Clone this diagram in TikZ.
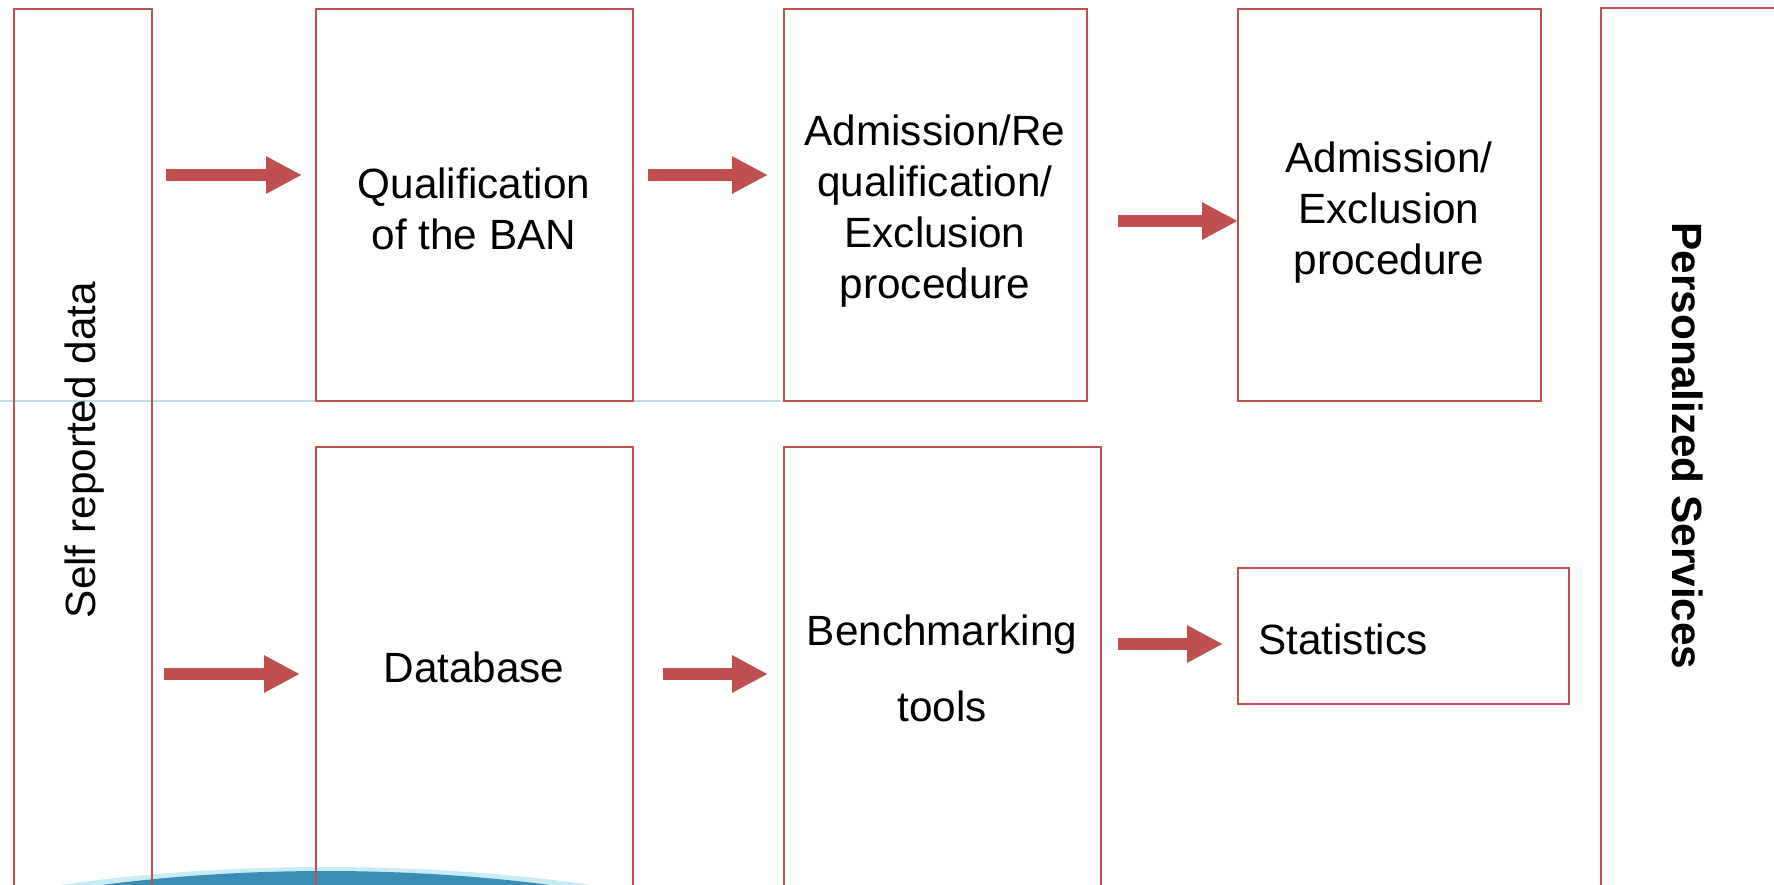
\documentclass[tikz,border=0pt]{standalone}
\usepackage{fontspec}
\setmainfont{Liberation Sans}
\usetikzlibrary{arrows.meta}
\definecolor{boxred}{RGB}{192,80,77}
\definecolor{arcblue}{RGB}{58,141,181}
\definecolor{arcglow}{RGB}{200,236,245}
\definecolor{hairblue}{RGB}{190,220,230}

\begin{document}
\begin{tikzpicture}[x=1pt,y=-1pt,
  frame/.style={draw=boxred, line width=2pt, anchor=north west, inner sep=0pt, outer sep=0pt},
  lbl/.style={font=\fontsize{42.3}{51}\selectfont, align=center, inner sep=0pt},
  bigarrow/.style={draw=boxred, line width=12pt, -{Triangle[width=35pt,length=36pt]}}]
\useasboundingbox (0,0) rectangle (1774,884);
\clip (0,0) rectangle (1774,884);

% decorative swoosh at the bottom and the thin guide line
\fill[arcglow] (326,1100) ellipse [x radius=690, y radius=233];
\fill[arcblue] (326,1100) ellipse [x radius=650, y radius=229];
\draw[hairblue, line width=1.5pt] (0,401) -- (780,401);

% boxes
\node[frame, minimum width=138pt, minimum height=900pt] (self) at (14,9) {};
\node[frame, minimum width=317pt, minimum height=392pt] (qual) at (316,9) {};
\node[frame, minimum width=303pt, minimum height=392pt] (adm) at (784,9) {};
\node[frame, minimum width=303pt, minimum height=392pt] (excl) at (1238,9) {};
\node[frame, minimum width=300pt, minimum height=900pt] (pers) at (1601,8) {};
\node[frame, minimum width=317pt, minimum height=500pt] (db) at (316,447) {};
\node[frame, minimum width=317pt, minimum height=500pt] (bench) at (784,447) {};
\node[frame, minimum width=331pt, minimum height=136pt] (stats) at (1238,568) {};

% labels
\node[lbl, rotate=90] (selft) at (85,450) {Self reported data};
\node[lbl] (qualt) at (474,209) {Qualification\\of the BAN};
\node[lbl] (admt) at (935,211) {Admission/Re\\qualification/\\Exclusion\\procedure};
\node[lbl] (exclt) at (1389,213) {Admission/\\Exclusion\\procedure};
\node[lbl] (dbt) at (474,667) {Database};
\node[lbl, font=\fontsize{42.3}{76}\selectfont] (bencht) at (942,668) {Benchmarking\\tools};
\node[lbl, anchor=west] (statst) at (1258,639) {Statistics};
\node[lbl, font=\bfseries\fontsize{42.3}{51}\selectfont, rotate=-90] (perst) at (1688,446) {Personalized Services};

% flow arrows
\draw[bigarrow, shorten <=14pt, shorten >=14pt] (self.east |- 0,175) -- (qual.west |- 0,175);
\draw[bigarrow, shorten <=15pt, shorten >=16pt] (qual.east |- 0,175) -- (adm.west |- 0,175);
\draw[bigarrow, shorten <=31pt, shorten >=0pt] (adm.east |- 0,221) -- (excl.west |- 0,221);
\draw[bigarrow, shorten <=12pt, shorten >=16pt] (self.east |- 0,674) -- (db.west |- 0,674);
\draw[bigarrow, shorten <=30pt, shorten >=16pt] (db.east |- 0,674) -- (bench.west |- 0,674);
\draw[bigarrow, shorten <=17pt, shorten >=15pt] (bench.east |- 0,644) -- (stats.west |- 0,644);
\end{tikzpicture}
\end{document}
